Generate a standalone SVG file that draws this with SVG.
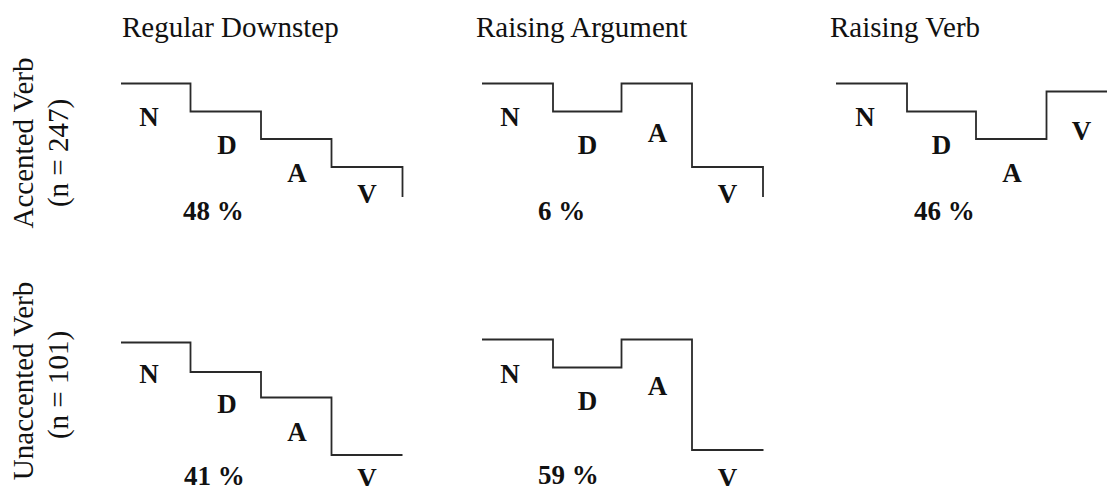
<svg xmlns="http://www.w3.org/2000/svg" width="1107" height="486" viewBox="0 0 1107 486">
  <style>
    .title { font-family: "Liberation Serif", "Times New Roman", serif; font-size: 29px; fill: #111; }
    .side { font-family: "Liberation Serif", "Times New Roman", serif; font-size: 29px; fill: #111; text-anchor: middle; }
    .lbl { font-family: "Liberation Serif", "Times New Roman", serif; font-size: 27px; font-weight: bold; fill: #111; text-anchor: middle; }
    .pct { font-family: "Liberation Serif", "Times New Roman", serif; font-size: 27px; font-weight: bold; fill: #111; }
    .contour { fill: none; stroke: #2a2a2a; stroke-width: 1.8; stroke-linejoin: miter; }
  </style>
  <rect width="1107" height="486" fill="#ffffff"/>

  <!-- column headings -->
  <g id="headings">
    <text class="title" x="122" y="37">Regular Downstep</text>
    <text class="title" x="476" y="37">Raising Argument</text>
    <text class="title" x="830" y="37">Raising Verb</text>
  </g>

  <!-- row headings, rotated -->
  <g id="row-accented">
    <text class="side" transform="translate(33,143) rotate(-90)">Accented Verb</text>
    <text class="side" transform="translate(68,153) rotate(-90)">(n = 247)</text>
  </g>
  <g id="row-unaccented">
    <text class="side" transform="translate(33,381) rotate(-90)">Unaccented Verb</text>
    <text class="side" transform="translate(68,385) rotate(-90)">(n = 101)</text>
  </g>

  <!-- pitch contours -->
  <g id="connectors">
    <path class="contour" d="M121,83.5 H190.5 V111.5 H261 V139 H331.5 V167 H402.5 V197"/>
    <path class="contour" d="M482,83.5 H553 V111.5 H621.5 V83.5 H692 V167 H763 V197"/>
    <path class="contour" d="M836,83.5 H907 V111.5 H976 V139 H1046.5 V91.5 H1107"/>
    <path class="contour" d="M121,342.5 H190.5 V372 H261 V397.5 H331.5 V455 H402.5"/>
    <path class="contour" d="M482,339.5 H553 V367.5 H621.5 V339.5 H692 V450 H763.5"/>
  </g>

  <!-- Accented verb / regular downstep -->
  <g id="acc-downstep">
    <text class="lbl" x="149" y="126">N</text>
    <text class="lbl" x="227" y="154">D</text>
    <text class="lbl" x="297" y="182">A</text>
    <text class="lbl" x="367" y="203">V</text>
    <text class="pct" x="183" y="220">48 %</text>
  </g>

  <!-- Accented verb / raising argument -->
  <g id="acc-raise-arg">
    <text class="lbl" x="510" y="126">N</text>
    <text class="lbl" x="587.5" y="154">D</text>
    <text class="lbl" x="657.5" y="142">A</text>
    <text class="lbl" x="727.5" y="203">V</text>
    <text class="pct" x="538" y="220">6 %</text>
  </g>

  <!-- Accented verb / raising verb -->
  <g id="acc-raise-verb">
    <text class="lbl" x="865" y="126">N</text>
    <text class="lbl" x="941.5" y="154">D</text>
    <text class="lbl" x="1012" y="182">A</text>
    <text class="lbl" x="1081.5" y="140">V</text>
    <text class="pct" x="914" y="219.5">46 %</text>
  </g>

  <!-- Unaccented verb / regular downstep -->
  <g id="unacc-downstep">
    <text class="lbl" x="149" y="383">N</text>
    <text class="lbl" x="227" y="413">D</text>
    <text class="lbl" x="297" y="441">A</text>
    <text class="lbl" x="367" y="487">V</text>
    <text class="pct" x="184" y="485">41 %</text>
  </g>

  <!-- Unaccented verb / raising argument -->
  <g id="unacc-raise-arg">
    <text class="lbl" x="510" y="383">N</text>
    <text class="lbl" x="587.5" y="410">D</text>
    <text class="lbl" x="657.5" y="395">A</text>
    <text class="lbl" x="727.5" y="487">V</text>
    <text class="pct" x="538" y="484">59 %</text>
  </g>
</svg>
